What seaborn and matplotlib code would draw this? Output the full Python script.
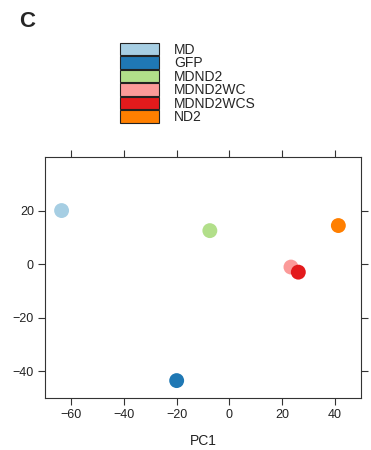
import matplotlib
matplotlib.use("Agg")
import matplotlib.pyplot as plt
from matplotlib.patches import Patch
import seaborn as sns
import pandas as pd

groups = ["MD", "GFP", "MDND2", "MDND2WC", "MDND2WCS", "ND2"]
pc1 = [-63.7, -20.0, -7.4, 23.4, 26.2, 41.4]
pc2 = [20.0, -43.5, 12.5, -1.1, -3.0, 14.4]
colors = ["#a6cee3", "#1f78b4", "#b2df8a", "#fb9a99", "#e31a1c", "#ff7f00"]
xticks = [-60, -40, -20, 0, 20, 40]
yticks = [-40, -20, 0, 20]

sns.set_style("white")
plt.rcParams["font.family"] = ["Liberation Sans", "DejaVu Sans"]

df = pd.DataFrame({"PC1": pc1, "PC2": pc2, "group": groups})

fig = plt.figure(figsize=(3.71, 4.5), dpi=100)
ax = fig.add_axes([45/371, 1-398/450, (361-45)/371, (398-157)/450])

sns.scatterplot(data=df, x="PC1", y="PC2", hue="group", hue_order=groups,
                palette=colors, s=115, linewidth=0, legend=False, ax=ax, zorder=3)

ax.set_xlim(-70, 50)
ax.set_ylim(-50, 40)
ax.set_xticks(xticks)
ax.set_yticks(yticks)
ax.set_xticklabels([f"\u2212{abs(v)}" if v < 0 else str(v) for v in xticks], fontsize=9)
ax.set_yticklabels([f"\u2212{abs(v)}" if v < 0 else str(v) for v in yticks], fontsize=9)
ax.tick_params(axis="both", which="both", direction="out", length=5, width=0.8,
               color="#333333", labelcolor="#222222", top=True, right=True,
               bottom=True, left=True, labeltop=False, labelright=False, pad=3)
for sp in ax.spines.values():
    sp.set_visible(True)
    sp.set_color("#333333")
    sp.set_linewidth(0.8)

ax.set_xlabel("PC1", fontsize=10, labelpad=9, color="#222222")
ax.set_ylabel("PC2", fontsize=10, color="#222222")
ax.yaxis.set_label_coords(-0.16, 0.45)

handles = [Patch(facecolor=c, edgecolor="#222222", linewidth=0.8) for c in colors]
fig.legend(handles, groups, loc="upper left", bbox_to_anchor=(120/371, 1-43/450),
           frameon=False, fontsize=10, handlelength=2.8, handleheight=1.0,
           labelspacing=-0.04, handletextpad=1.1, borderpad=0, borderaxespad=0)

fig.text(19/371, 1-11/450, "C", fontsize=16, fontweight="bold", va="top", ha="left")

fig.savefig("out.png", dpi=100)
